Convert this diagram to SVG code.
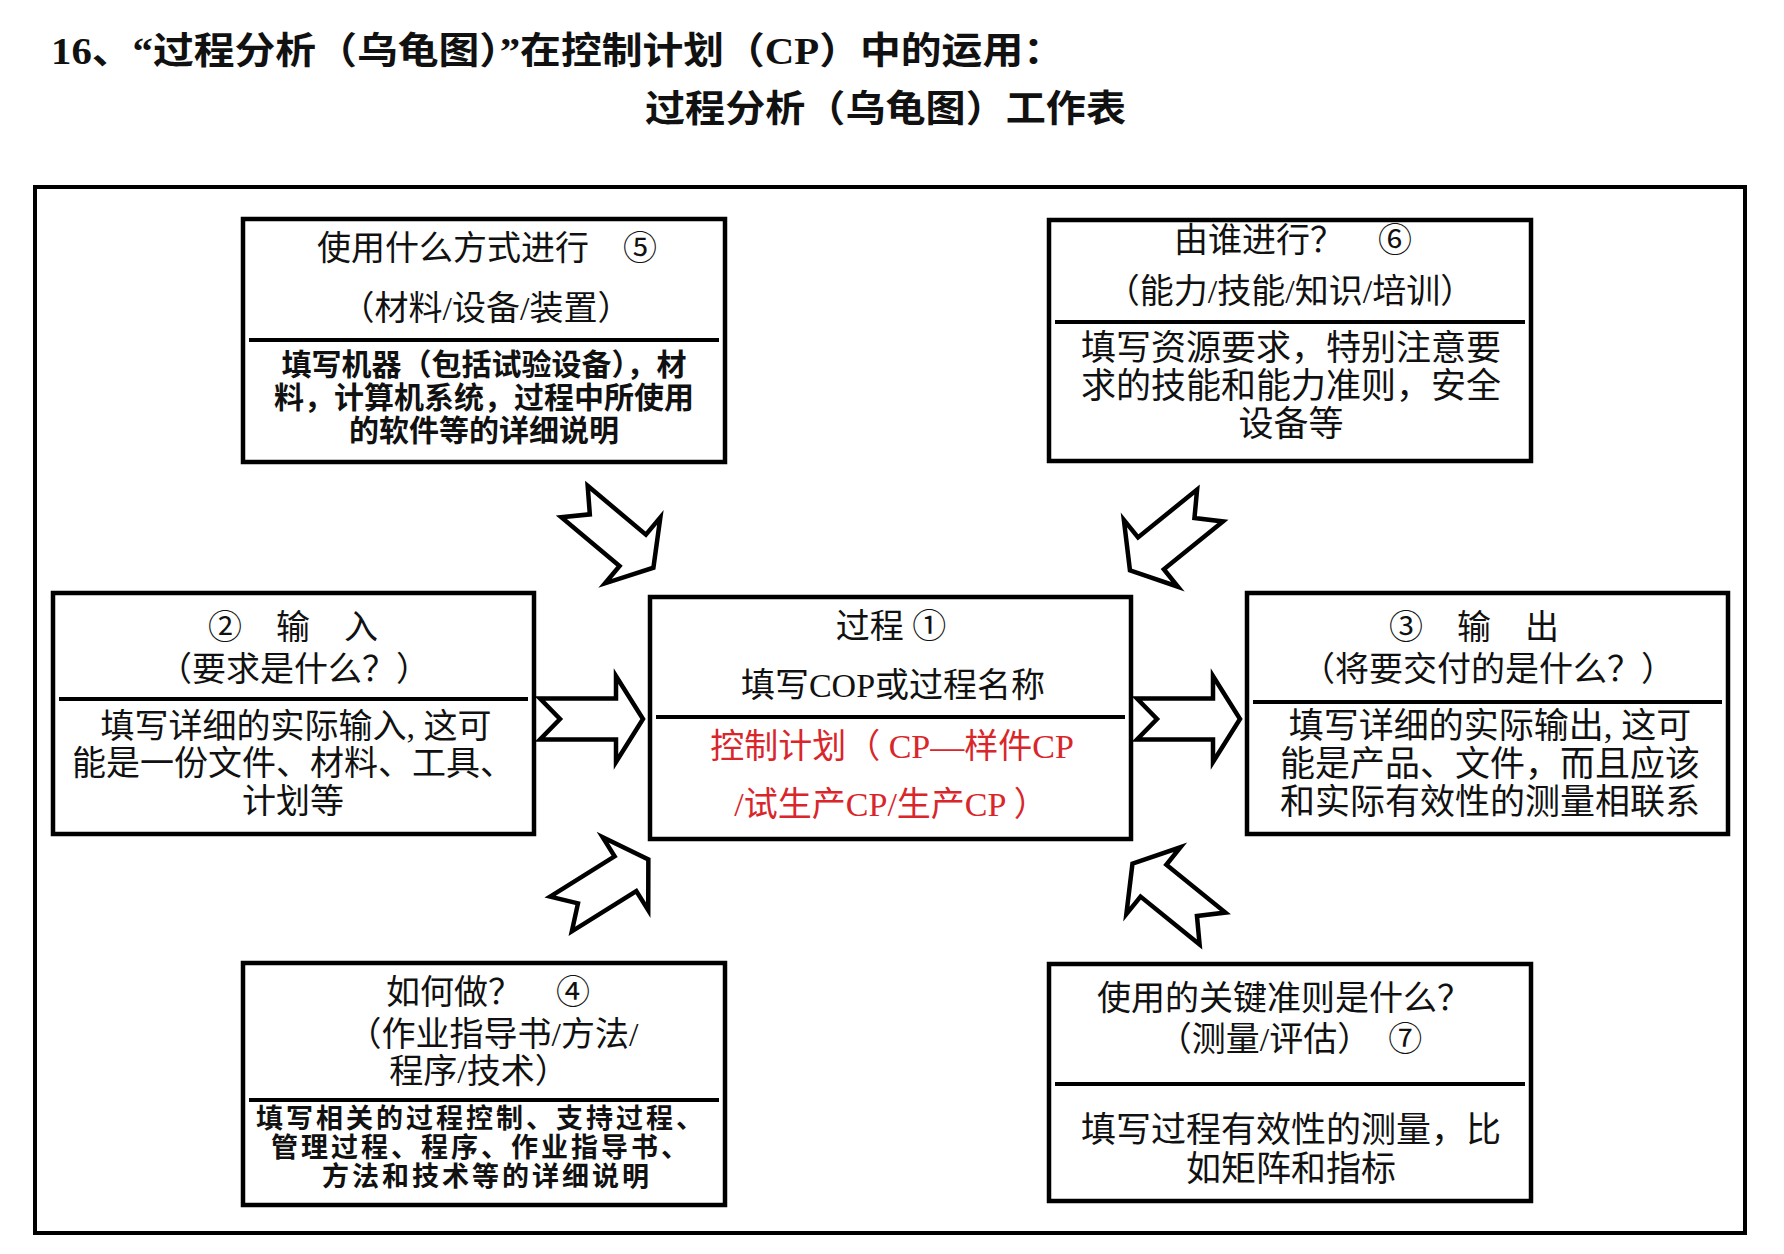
<svg xmlns="http://www.w3.org/2000/svg" width="1784" height="1254" viewBox="0 0 1784 1254">
<style>
.box{fill:#fff;stroke:#000;stroke-width:4.5}
.dv{stroke:#000;stroke-width:4}
.arr{fill:#fff;stroke:#000;stroke-width:4.5;stroke-linejoin:miter}
text{font-family:'Liberation Serif','Noto Sans CJK SC',serif;text-anchor:middle;fill:#111}
.tt{font-weight:bold;font-size:37px;text-anchor:start}
.h{font-size:34px}
.b{font-size:35px}
.s{font-size:30px;font-weight:bold}
.s2{font-size:27px;font-weight:bold;letter-spacing:3px}
.red{fill:#d9262b}
</style>
<defs>
<path id="arrow" class="arr" d="M0,-20.5 L76,-20.5 L76,-43 L103,0 L76,43 L76,20.5 L0,20.5 L20,0 Z"/>
</defs>
<rect width="1784" height="1254" fill="#fff"/>
<g id="title">
<text class="tt" x="51" y="64" textLength="1013" lengthAdjust="spacingAndGlyphs">16、“过程分析（乌龟图）”在控制计划（CP）中的运用：</text>
<text class="tt" x="645" y="122" textLength="481" lengthAdjust="spacingAndGlyphs">过程分析（乌龟图）工作表</text>
</g>
<rect id="frame" x="35" y="187" width="1710" height="1046" fill="none" stroke="#000" stroke-width="4"/>
<g id="connectors">
<use href="#arrow" transform="translate(540,719)"/>
<use href="#arrow" transform="translate(1137,719)"/>
<use href="#arrow" transform="translate(574.5,501.5) rotate(40)"/>
<use href="#arrow" transform="translate(1210,505.5) rotate(141)"/>
<use href="#arrow" transform="translate(561,914) rotate(-32)"/>
<use href="#arrow" transform="translate(1212.5,928.5) rotate(219)"/>
</g>
<g id="node5">
<rect class="box" x="243" y="219" width="482" height="243"/>
<line class="dv" x1="249" y1="340" x2="719" y2="340"/>
<text class="h" x="487" y="260" xml:space="preserve">使用什么方式进行　⑤</text>
<text class="h" x="486" y="320">（材料/设备/装置）</text>
<text class="s" x="484" y="375">填写机器（包括试验设备），材</text>
<text class="s" x="484" y="408">料，计算机系统，过程中所使用</text>
<text class="s" x="484" y="441">的软件等的详细说明</text>
</g>
<g id="node6">
<rect class="box" x="1049" y="220" width="482" height="241"/>
<line class="dv" x1="1055" y1="322" x2="1525" y2="322"/>
<text class="h" x="1293" y="252" xml:space="preserve">由谁进行？　⑥</text>
<text class="h" x="1290" y="303">（能力/技能/知识/培训）</text>
<text class="b" x="1291" y="360">填写资源要求，特别注意要</text>
<text class="b" x="1291" y="398">求的技能和能力准则，安全</text>
<text class="b" x="1291" y="436">设备等</text>
</g>
<g id="node2">
<rect class="box" x="53" y="593" width="481" height="241"/>
<line class="dv" x1="59" y1="699" x2="528" y2="699"/>
<text class="h" x="293" y="639" xml:space="preserve">②　输　入</text>
<text class="h" x="294" y="681">（要求是什么？）</text>
<text class="h" x="296" y="738">填写详细的实际输入, 这可</text>
<text class="h" x="293" y="775">能是一份文件、材料、工具、</text>
<text class="h" x="293" y="813">计划等</text>
</g>
<g id="node1">
<rect class="box" x="650" y="597" width="481" height="242"/>
<line class="dv" x1="656" y1="717" x2="1125" y2="717"/>
<text class="h" x="891" y="638">过程 ①</text>
<text class="h" x="893" y="697">填写COP或过程名称</text>
<text class="h red" x="892" y="758" xml:space="preserve">控制计划（ CP—样件CP</text>
<text class="h red" x="891" y="816" xml:space="preserve">/试生产CP/生产CP ）</text>
</g>
<g id="node3">
<rect class="box" x="1247" y="593" width="481" height="241"/>
<line class="dv" x1="1253" y1="702" x2="1722" y2="702"/>
<text class="h" x="1474" y="639" xml:space="preserve">③　输　出</text>
<text class="h" x="1488" y="681">（将要交付的是什么？）</text>
<text class="b" x="1490" y="738">填写详细的实际输出, 这可</text>
<text class="b" x="1490" y="776">能是产品、文件，而且应该</text>
<text class="b" x="1490" y="814">和实际有效性的测量相联系</text>
</g>
<g id="node4">
<rect class="box" x="243" y="963" width="482" height="242"/>
<line class="dv" x1="249" y1="1100" x2="719" y2="1100"/>
<text class="h" x="488" y="1004" xml:space="preserve">如何做？　④</text>
<text class="h" x="493" y="1046">（作业指导书/方法/</text>
<text class="h" x="479" y="1083">程序/技术）</text>
<text class="s2" x="481" y="1128">填写相关的过程控制、支持过程、</text>
<text class="s2" x="481" y="1157">管理过程、程序、作业指导书、</text>
<text class="s2" x="487" y="1186">方法和技术等的详细说明</text>
</g>
<g id="node7">
<rect class="box" x="1049" y="964" width="482" height="237"/>
<line class="dv" x1="1055" y1="1084" x2="1525" y2="1084"/>
<text class="h" x="1284" y="1010">使用的关键准则是什么？</text>
<text class="h" x="1290" y="1051" xml:space="preserve">（测量/评估）　⑦</text>
<text class="b" x="1291" y="1142">填写过程有效性的测量，比</text>
<text class="b" x="1291" y="1181">如矩阵和指标</text>
</g>
</svg>
